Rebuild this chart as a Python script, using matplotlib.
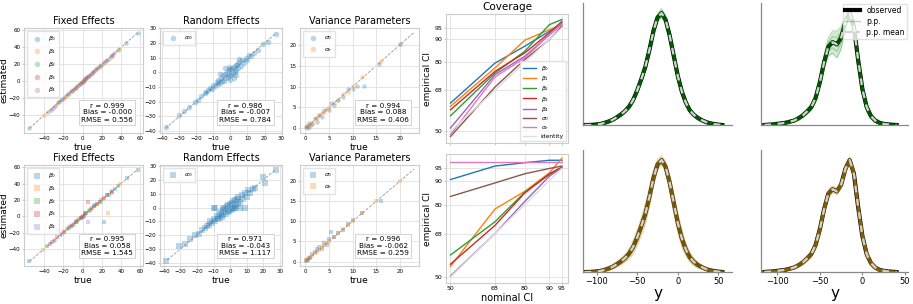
import numpy as np
import matplotlib
matplotlib.use('Agg')
import matplotlib.pyplot as plt
from matplotlib.lines import Line2D

# ---------------- scatter data (true vs estimated) ----------------
# row 1, fixed effects
b0_true_1 = [-55, -31, -22, -15, -8, -3, 2, 6, 11, 17, 24, 33, 45, 57]
b0_est_1 = [-54.6, -31.3, -21.8, -15.2, -7.6, -3.3, 2.4, 5.7, 11.3, 16.8, 24.2, 32.7, 45.3, 56.8]
b1_true_1 = [-40, -27, -18, -10, -5, 0, 4, 9, 14, 21, 29, 38]
b1_est_1 = [-39.7, -27.2, -17.6, -10.3, -4.8, 0.3, 3.8, 9.2, 14.3, 20.7, 29.2, 37.8]
b2_true_1 = [-36, -24, -16, -11, -6, -1, 3, 8, 13, 19, 27, 37]
b2_est_1 = [-35.8, -24.3, -15.7, -11.2, -5.7, -1.2, 3.3, 7.8, 13.2, 19.3, 26.8, 37.2]
b3_true_1 = [-33, -25, -19, -12, -7, -2, 1, 5, 10, 15, 22, 30]
b3_est_1 = [-33.2, -24.7, -19.3, -11.8, -7.3, -1.7, 0.8, 5.3, 9.7, 15.2, 22.3, 29.7]
b4_true_1 = [-29, -21, -14, -9, -4, 0, 4, 7, 12, 18, 25, 31]
b4_est_1 = [-28.7, -21.2, -13.8, -9.3, -3.8, -0.2, 4.2, 6.8, 12.3, 17.7, 25.2, 31.3]

# row 2, fixed effects
b0_true_2 = [-55, -32, -23, -14, -7, -2, 3, 7, 12, 18, 22, 25, 34, 46, 57]
b0_est_2 = [-54.5, -31.5, -22.6, -14.5, -7.4, -1.6, 3.5, 6.6, 12.4, 17.6, -7, 25.4, 33.6, 46.3, 56.7]
b1_true_2 = [-41, -28, -19, -11, -5, 0, 4, 9, 15, 21, 26, 29, 39]
b1_est_2 = [-40.6, -28.4, -18.6, -11.3, -4.7, 0.4, 3.7, 9.3, 14.6, 21.4, 4, 28.6, 39.3]
b2_true_2 = [-37, -25, -16, -10, -6, -1, 3, 8, 13, 19, 27, 37]
b2_est_2 = [-36.7, -17, -15.6, -10.4, -5.6, -1.3, 3.4, 7.6, 13.3, 19.4, 26.6, 37.4]
b3_true_2 = [-34, -26, -19, -12, -7, -2, 1, 6, 10, 15, 22, 30]
b3_est_2 = [-34.3, -25.6, -19.4, -11.6, -7.4, -1.6, 0.6, 18, 9.6, 15.4, 22.4, 29.6]
b4_true_2 = [-30, -21, -14, -9, -4, 0, 4, 6, 12, 18, 25, 31]
b4_est_2 = [-29.6, -21.4, -13.6, -9.4, -3.6, -0.4, 4.4, -7, 12.4, 17.6, 25.4, 31.4]

# random effects
a0_true_1 = [-38, -30, -27, -24, -21, -19, -17, -15, -14, -13, -12, -11, -10, -9, -8, -7.5, -7,
             -6, -5.5, -5, -4.5, -4, -3, -2.5, -2, -1.5, -1, -0.5, 0, 0.5, 1, 1.5, 2, 2.5, 3,
             3.5, 4, 4.5, 5, 6, 7, 8, 9, 10, 11, 12, 14, 16, 19, 22, 27, -3, 2, -6, 5, 0, 3, -1]
a0_est_1 = [-37.5, -29, -26, -23.5, -20, -18.5, -16, -14, -13.5, -12, -10.5, -11.5, -8.5, -9.5,
            -6.5, -8, -5, -7, -3.5, -6, -2, -5.5, -1, -4, 0.5, -3, 1.5, -2, 2, -1.5, 3, -0.5,
            4, 0.5, 5, 1.5, 6, 3, 7, 4.5, 8.5, 6.5, 10, 8.5, 12, 11, 13, 15.5, 19.5, 21, 26.5,
            3, -4, -1, 9, -5, -2, 4]
a0_true_2 = [-39, -31, -27, -24, -21, -19, -17, -15, -14, -13, -12, -11, -10, -9, -8, -7.5, -7,
             -6, -5.5, -5, -4.5, -4, -3, -2.5, -2, -1.5, -1, -0.5, 0, 0.5, 1, 1.5, 2, 2.5, 3,
             3.5, 4, 4.5, 5, 6, 7, 8, 9, 10, 11, 12, 14, 15, 20, 21, 28, -10, -9, -4, 6, 9, 3]
a0_est_2 = [-39, -28, -26.5, -23, -20, -19.5, -16, -14.5, -13, -12.5, -10, -11.5, -8, -9.5,
            -6, -8.5, -4.5, -7.5, -3, -6.5, -1.5, -5.5, -0.5, -4.5, 1, -3.5, 2, -2.5, 2.5,
            -2, 3.5, -1, 4.5, 0, 5.5, 1, 6.5, 2.5, 7.5, 4, 9, 6, 10.5, 8, 12.5, 10.5, 13.5,
            14, 22, 18, 27.5, 0, 0, 0, 0, 0, 0]

# variance parameters
s0_true_1 = [0.1, 0.3, 0.5, 0.8, 1, 1.5, 2, 2.5, 3, 3.5, 4, 5, 5.5, 6, 7, 8, 9, 10, 11, 12.5, 15.5, 20]
s0_est_1 = [0.3, 0.6, 0.2, 1.2, 0.5, 1.0, 2.4, 1.5, 3.3, 2.8, 4.5, 4.5, 6.0, 5.5, 6.8, 7.5,
            9.5, 9.5, 10.2, 10.2, 15.3, 20.2]
se_true_1 = [0.2, 0.5, 1, 1.5, 2, 2.5, 3, 3.5, 4, 4.5, 5, 6, 7, 8, 9, 10, 12, 16, 20]
se_est_1 = [0.4, 0.7, 1.1, 1.4, 2.2, 2.4, 3.1, 3.6, 3.9, 4.6, 5.1, 6.1, 6.8, 8.3, 8.8,
            10.1, 12.2, 16.1, 20.1]
s0_true_2 = [0.1, 0.3, 0.5, 0.8, 1, 1.5, 2, 2.5, 3, 3.5, 4, 4.5, 5, 5.5, 6, 7, 8, 9, 10, 12, 16]
s0_est_2 = [0.2, 0.5, 0.3, 1.0, 0.8, 1.8, 2.3, 3.2, 3.5, 3.1, 4.6, 4.2, 5.6, 7.4, 6.2, 7.2,
            7.8, 9.3, 10.4, 12.0, 15.0]
se_true_2 = [0.2, 0.5, 1, 1.5, 2, 2.5, 3, 3.5, 4, 4.5, 5, 6, 7, 8, 9, 10, 12, 15, 20]
se_est_2 = [0.3, 0.6, 1.1, 1.5, 2.1, 2.5, 3.0, 3.6, 4.0, 4.5, 5.0, 6.0, 7.0, 8.0, 9.0,
            10.0, 12.0, 15.0, 20.0]

stats_1 = ["r = 0.999\nBias = -0.000\nRMSE = 0.556",
           "r = 0.986\nBias = -0.007\nRMSE = 0.784",
           "r = 0.994\nBias = 0.088\nRMSE = 0.406"]
stats_2 = ["r = 0.995\nBias = 0.058\nRMSE = 1.545",
           "r = 0.971\nBias = -0.043\nRMSE = 1.117",
           "r = 0.996\nBias = -0.062\nRMSE = 0.259"]

# ---------------- coverage data ----------------
nominal = [50, 68, 80, 90, 95]
cov_labels = [r'$\beta_0$', r'$\beta_1$', r'$\beta_2$', r'$\beta_3$', r'$\beta_4$',
              r'$\sigma_0$', r'$\sigma_e$']
cov_top = [[62.3, 79.7, 87.0, 93.5, 97.1],
           [60.9, 77.6, 89.6, 94.2, 96.4],
           [56.8, 75.4, 84.8, 96.4, 98.6],
           [59.4, 76.1, 84.1, 92.8, 97.8],
           [51.5, 74.7, 82.6, 92.0, 97.4],
           [47.8, 69.3, 81.2, 89.9, 95.7],
           [48.6, 73.7, 81.9, 92.0, 96.4]]
cov_bottom = [[90.4, 96.0, 97.4, 98.4, 98.4],
              [54.4, 78.2, 85.5, 93.2, 99.2],
              [59.1, 72.9, 85.1, 92.5, 95.3],
              [55.3, 71.4, 84.8, 92.8, 95.6],
              [50.4, 68.0, 81.3, 91.8, 95.3],
              [83.4, 89.0, 92.8, 95.0, 96.0],
              [97.8, 97.8, 97.8, 97.8, 97.8]]

# ---------------- posterior predictive densities ----------------
grid_left = [-115, -110, -105, -100, -95, -90, -85, -80, -75, -70, -65, -60, -55, -50, -45,
             -40, -35, -30, -25, -20, -15, -10, -5, 0, 5, 10, 15, 20, 25, 30, 35, 40, 45, 50, 55]
obs_left = [0.0, 0.0, 0.002, 0.005, 0.01, 0.02, 0.032, 0.048, 0.07, 0.095, 0.125, 0.165, 0.225,
            0.31, 0.41, 0.52, 0.67, 0.84, 0.96, 1.0, 0.94, 0.8, 0.62, 0.44, 0.3, 0.2, 0.13,
            0.09, 0.062, 0.042, 0.026, 0.015, 0.008, 0.003, 0.0]
spread_tl = [0, 0, 0.002, 0.004, 0.006, 0.008, 0.01, 0.012, 0.014, 0.016, 0.018, 0.02, 0.025,
             0.03, 0.035, 0.04, 0.04, 0.035, 0.03, 0.04, 0.035, 0.035, 0.04, 0.04, 0.03, 0.025,
             0.02, 0.015, 0.012, 0.01, 0.008, 0.006, 0.004, 0.002, 0]
spread_bl = [0, 0.002, 0.004, 0.006, 0.01, 0.014, 0.018, 0.022, 0.026, 0.03, 0.035, 0.045, 0.06,
             0.07, 0.08, 0.09, 0.09, 0.07, 0.05, 0.04, 0.05, 0.07, 0.09, 0.09, 0.08, 0.06,
             0.045, 0.035, 0.025, 0.02, 0.014, 0.01, 0.006, 0.003, 0]
grid_right = [-115, -110, -105, -100, -95, -90, -85, -80, -75, -70, -65, -60, -55, -50, -45,
              -40, -35, -30, -25, -20, -15, -10, -5, 0, 5, 10, 15, 20, 25, 30, 35, 40]
obs_right = [0.0, 0.003, 0.005, 0.01, 0.015, 0.02, 0.03, 0.04, 0.06, 0.085, 0.12, 0.16, 0.24,
             0.38, 0.56, 0.70, 0.74, 0.72, 0.78, 0.92, 1.0, 0.88, 0.58, 0.32, 0.16, 0.08,
             0.04, 0.02, 0.01, 0.005, 0.002, 0.0]
spread_tr = [0, 0.002, 0.004, 0.006, 0.008, 0.01, 0.012, 0.015, 0.018, 0.02, 0.025, 0.03, 0.04,
             0.05, 0.06, 0.08, 0.1, 0.12, 0.1, 0.06, 0.04, 0.05, 0.06, 0.05, 0.04, 0.03, 0.02,
             0.012, 0.008, 0.005, 0.002, 0]
spread_br = [0, 0.002, 0.004, 0.006, 0.008, 0.01, 0.012, 0.015, 0.018, 0.02, 0.025, 0.03, 0.04,
             0.05, 0.05, 0.04, 0.03, 0.03, 0.035, 0.04, 0.03, 0.05, 0.06, 0.05, 0.04, 0.03,
             0.02, 0.012, 0.008, 0.005, 0.002, 0]

W, H = 913, 304
fig = plt.figure(figsize=(W / 100, H / 100), dpi=100)
tab = plt.rcParams['axes.prop_cycle'].by_key()['color']


def px_axes(l, t, r, b):
    return fig.add_axes([l / W, 1 - b / H, (r - l) / W, (b - t) / H])


def style_grid(ax):
    ax.grid(True, color='#e4e4e4', lw=0.7)
    ax.set_axisbelow(True)
    for s in ax.spines.values():
        s.set_color('#cccccc')
        s.set_linewidth(0.8)
    ax.tick_params(labelsize=4, length=1.5, color='#cccccc', pad=1)


def scatter_panel(ax, series, labels, marker, diag, stat, title, size):
    for i, (xt, ye) in enumerate(series):
        ax.scatter(xt, ye, s=size, color=tab[i], alpha=0.3, marker=marker, lw=0, label=labels[i])
    ax.plot(diag, diag, ls='--', color='grey', lw=0.6, alpha=0.8, zorder=0.5)
    style_grid(ax)
    ax.set_title(title, fontsize=7, pad=3)
    ax.set_xlabel('true', fontsize=6.5, labelpad=1)
    ax.legend(loc='upper left', fontsize=4.5, markerscale=4.0 / size ** 0.5, frameon=True,
              edgecolor='#dddddd', fancybox=False, labelspacing=0.6, handletextpad=0.8,
              borderpad=0.5)
    ax.text(0.7, 0.1, stat, transform=ax.transAxes, ha='center', va='bottom', fontsize=5.2,
            multialignment='center',
            bbox=dict(boxstyle='square,pad=0.3', fc='white', ec='#cccccc', lw=0.6))


beta_labels = [r'$\beta_0$', r'$\beta_1$', r'$\beta_2$', r'$\beta_3$', r'$\beta_4$']
rows = [
    (28, 133, 'o', stats_1,
     [(b0_true_1, b0_est_1), (b1_true_1, b1_est_1), (b2_true_1, b2_est_1),
      (b3_true_1, b3_est_1), (b4_true_1, b4_est_1)],
     [(a0_true_1, a0_est_1)], [(s0_true_1, s0_est_1), (se_true_1, se_est_1)]),
    (165, 266, 's', stats_2,
     [(b0_true_2, b0_est_2), (b1_true_2, b1_est_2), (b2_true_2, b2_est_2),
      (b3_true_2, b3_est_2), (b4_true_2, b4_est_2)],
     [(a0_true_2, a0_est_2)], [(s0_true_2, s0_est_2), (se_true_2, se_est_2)]),
]
for top, bot, mk, stats, fe, re, var in rows:
    ax1 = px_axes(24, top, 143, bot)
    scatter_panel(ax1, fe, beta_labels, mk, [-55, 57], stats[0], 'Fixed Effects', 10)
    ax1.set_xticks([-40, -20, 0, 20, 40, 60])
    ax1.set_yticks([-40, -20, 0, 20, 40, 60])
    ax1.set_ylabel('estimated', fontsize=6.5, labelpad=0.5)
    ax2 = px_axes(160, top, 282, bot)
    scatter_panel(ax2, re, [r'$\alpha_0$'], mk, [-38, 27], stats[1], 'Random Effects', 16)
    ax2.set_xticks([-40, -30, -20, -10, 0, 10, 20, 30])
    ax2.set_yticks([-40, -30, -20, -10, 0, 10, 20, 30])
    ax3 = px_axes(300, top, 419, bot)
    scatter_panel(ax3, var, [r'$\sigma_0$', r'$\sigma_e$'], mk, [0, 23], stats[2],
                  'Variance Parameters', 10)
    ax3.set_xlim(-1.1, 24)
    ax3.set_ylim(-1.1, 24)
    ax3.set_xticks([0, 5, 10, 15, 20])
    ax3.set_yticks([0, 5, 10, 15, 20])

# coverage
for k, (top, bot, cov) in enumerate([(14, 143, cov_top), (154, 283, cov_bottom)]):
    ax = px_axes(446, top, 568, bot)
    for i, vals in enumerate(cov):
        ax.plot(nominal, vals, color=tab[i], lw=1, label=cov_labels[i])
    ax.plot(nominal, nominal, color='#dddddd', lw=1, label='identity')
    style_grid(ax)
    ax.set_xticks(nominal)
    ax.set_yticks(nominal)
    ax.set_xlim(48.2, 97.5)
    ax.tick_params(labelsize=4.5)
    ax.set_ylabel('empirical CI', fontsize=6.5, labelpad=2)
    if k == 0:
        ax.set_ylim(45, 101)
        ax.set_title('Coverage', fontsize=7.5, pad=3)
        ax.tick_params(labelbottom=False)
        ax.legend(loc='lower right', fontsize=4.3, frameon=True, edgecolor='#dddddd',
                  fancybox=False, handlelength=2.2, labelspacing=0.22, borderpad=0.4,
                  borderaxespad=0.3)
    else:
        ax.set_ylim(47.5, 101)
        ax.set_xlabel('nominal CI', fontsize=7, labelpad=1)

# densities
dens = [
    (583, 3, 732, 125, grid_left, obs_left, spread_tl, 'green', (-117, 67), False),
    (761, 3, 908, 125, grid_right, obs_right, spread_tr, 'green', (-119, 53.5), False),
    (583, 150, 732, 272, grid_left, obs_left, spread_bl, 'darkgoldenrod', (-117, 67), True),
    (761, 150, 908, 272, grid_right, obs_right, spread_br, 'darkgoldenrod', (-119, 53.5), True),
]
for j, (l, t, r, b, gx, obs, spr, col, xl, bottom) in enumerate(dens):
    ax = px_axes(l, t, r, b)
    gx = np.array(gx)
    obs = np.array(obs)
    spr = np.array(spr)
    ax.plot(gx, obs, color='black', lw=3, zorder=2)
    ax.fill_between(gx, obs - spr, obs + spr, color=col, alpha=0.18, lw=0, zorder=3)
    for f in [-1, -0.5, 0.5, 1]:
        ax.plot(gx, obs + f * spr, color=col, lw=0.7, alpha=0.3, zorder=3)
    ax.plot(gx, obs, color=col, lw=2.4, alpha=0.5, zorder=3)
    ax.plot(gx, obs, color='lightgray', lw=1.6, ls=(0, (3, 3)), zorder=4)
    ax.set_xlim(*xl)
    ax.set_ylim(0, 1.09)
    ax.set_yticks([])
    for s in ['top', 'right']:
        ax.spines[s].set_visible(False)
    for s in ['left', 'bottom']:
        ax.spines[s].set_color('#888888')
        ax.spines[s].set_linewidth(0.9)
    if bottom:
        ax.set_xticks([-100, -50, 0, 50])
        ax.tick_params(labelsize=6, length=2.5, color='#888888', pad=1)
        ax.set_xlabel('y', fontsize=11, labelpad=0)
    else:
        ax.set_xticks([])
    if j == 1:
        handles = [Line2D([], [], color='black', lw=3),
                   Line2D([], [], color='green', lw=1, alpha=0.3),
                   Line2D([], [], color='lightgray', lw=1.5, ls='--')]
        ax.legend(handles, ['observed', 'p.p.', 'p.p. mean'], loc='upper right',
                  fontsize=5.5, frameon=True, edgecolor='#dddddd', fancybox=True,
                  borderaxespad=0.1, labelspacing=0.25, handlelength=2.0, borderpad=0.3)

fig.savefig('out.png', dpi=100)
